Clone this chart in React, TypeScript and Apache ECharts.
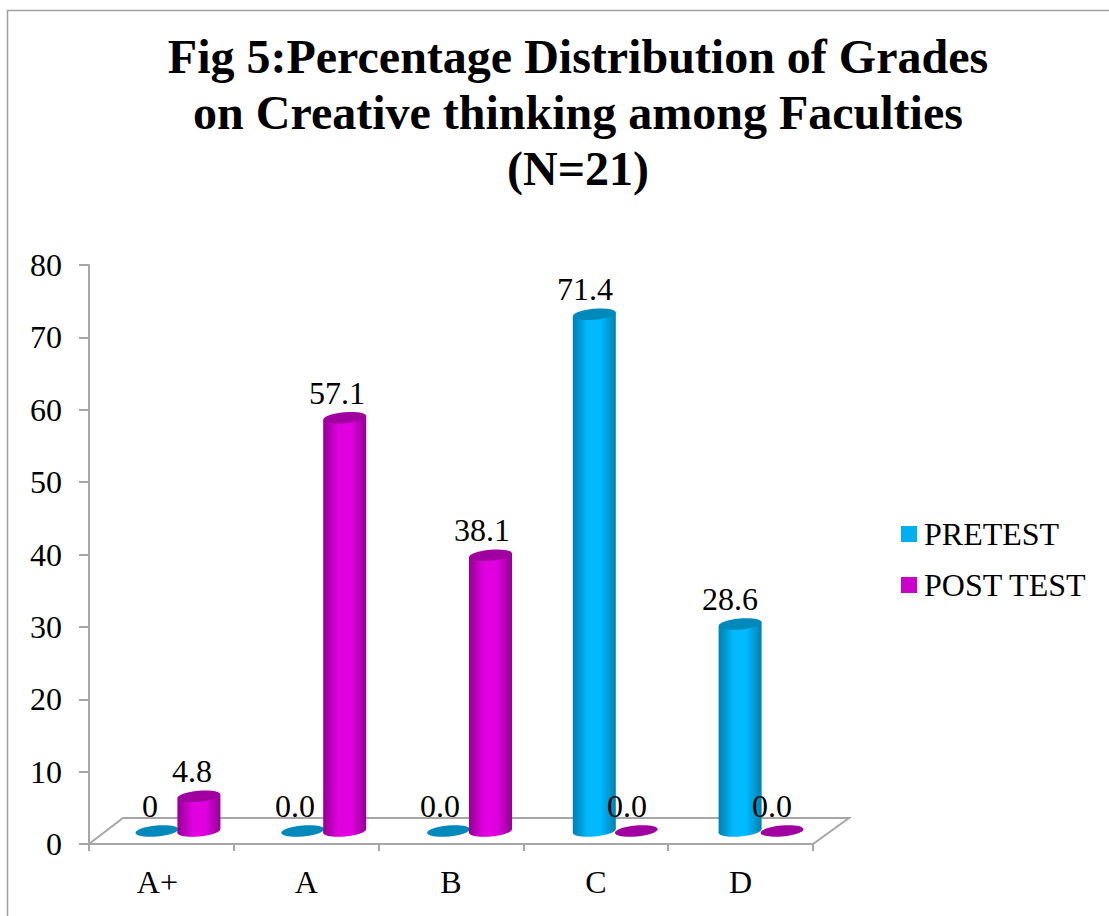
import React, { useEffect, useRef } from "react";
import * as echarts from "echarts";

const titleLines = [
  "Fig 5:Percentage Distribution of Grades",
  "on Creative thinking among Faculties",
  "(N=21)",
];
const categories = ["A+", "A", "B", "C", "D"];
const pretest = [0, 0, 0, 71.4, 28.6];
const posttest = [4.8, 57.1, 38.1, 0, 0];
const pretestLabels = ["0", "0.0", "0.0", "71.4", "28.6"];
const posttestLabels = ["4.8", "57.1", "38.1", "0.0", "0.0"];

const SERIF = '"Liberation Serif", "Times New Roman", serif';
const AXIS_GRAY = "#A6A6A6";

const cylinderGradient = (edge: string, mid: string) => ({
  type: "linear",
  x: 0,
  y: 0,
  x2: 1,
  y2: 0,
  colorStops: [
    { offset: 0, color: edge },
    { offset: 0.35, color: mid },
    { offset: 0.65, color: mid },
    { offset: 1, color: edge },
  ],
});

// Cylinder on the floor of the pseudo-3D plot: slanted body, rounded foot, darker cap.
const cylinder =
  (shift: number, labels: string[], edge: string, mid: string, cap: string) =>
  (_params: any, api: any) => {
    const index = api.value(0);
    const [cx0, topFront] = api.coord([index, api.value(1)]);
    const [, baseFront] = api.coord([index, 0]);
    const cx = cx0 + shift + index; // the floor's depth plane is slightly wider than the front edge
    const depthRise = 13;
    const top = topFront - depthRise;
    const base = baseFront - depthRise;
    const rx = 21.5;
    const ry = 5.5;
    const tilt = 0.09;
    const lean = rx * Math.sin(tilt);
    const fill = cylinderGradient(edge, mid);
    const children: any[] = [];
    if (base - top > 0.5) {
      children.push(
        {
          type: "ellipse",
          x: cx,
          y: base,
          rotation: tilt,
          shape: { cx: 0, cy: 0, rx, ry },
          style: { fill },
        },
        {
          type: "polygon",
          shape: {
            points: [
              [cx - rx, top + lean],
              [cx - rx, base + lean],
              [cx + rx, base - lean],
              [cx + rx, top - lean],
            ],
          },
          style: { fill },
        },
      );
    }
    children.push({
      type: "ellipse",
      x: cx,
      y: top,
      rotation: tilt,
      shape: { cx: 0, cy: 0, rx, ry },
      style: { fill: cap },
    });
    children.push({
      type: "text",
      z2: 50,
      x: cx - 7 - index * 0.8,
      y: top - 25,
      style: {
        text: labels[index],
        fill: "#000",
        font: `32px ${SERIF}`,
        align: "center",
        verticalAlign: "middle",
      },
    });
    return { type: "group", children };
  };

export default function App() {
  const ref = useRef<HTMLDivElement>(null);

  useEffect(() => {
    document.body.style.margin = "0";
    const chart = echarts.init(ref.current!, undefined, { renderer: "svg" });
    chart.setOption({
      animation: false,
      backgroundColor: "#fff",
      title: {
        text: titleLines.join("\n"),
        left: 573,
        top: 23,
        textAlign: "center",
        textStyle: {
          fontFamily: SERIF,
          fontWeight: "bold",
          fontSize: 48,
          lineHeight: 56,
          color: "#000",
        },
      },
      grid: { left: 89, top: 265, width: 724, height: 579 },
      legend: {
        data: [
          { name: "PRETEST", icon: "rect" },
          { name: "POST TEST", icon: "rect" },
        ],
        orient: "vertical",
        left: 901,
        top: 518,
        padding: 0,
        itemWidth: 16,
        itemHeight: 16,
        itemGap: 19,
        selectedMode: false,
        textStyle: {
          fontFamily: SERIF,
          fontSize: 32,
          color: "#000",
          padding: [0, 0, 0, 2],
        },
      },
      xAxis: {
        type: "category",
        data: categories,
        axisLine: { lineStyle: { color: AXIS_GRAY, width: 2 } },
        axisTick: { show: true, interval: 0, length: 7, alignWithLabel: false, lineStyle: { color: AXIS_GRAY, width: 2 } },
        axisLabel: {
          interval: 0,
          color: "#000",
          margin: 22,
          fontFamily: SERIF,
          fontSize: 32,
          // the first category's label sits a little left of its band centre
          formatter: (v: string) => (v === "A+" ? `{lead|${v}}` : v),
          rich: { lead: { fontFamily: SERIF, fontSize: 32, color: "#000", padding: [0, 8, 0, 0] } },
        },
      },
      yAxis: {
        type: "value",
        min: 0,
        max: 80,
        interval: 10,
        splitLine: { show: false },
        axisLine: { show: true, lineStyle: { color: AXIS_GRAY, width: 2 } },
        axisTick: { show: true, length: 10, lineStyle: { color: AXIS_GRAY, width: 2 } },
        axisLabel: { fontFamily: SERIF, fontSize: 32, color: "#000", margin: 27 },
      },
      graphic: [
        {
          type: "polyline",
          silent: true,
          z: 1,
          shape: { points: [[7.5, 916], [7.5, 10.5], [1109, 10.5]] },
          style: { stroke: "#A0A0A0", lineWidth: 1.5, fill: "none" },
        },
        {
          type: "polyline",
          silent: true,
          z: 1,
          shape: { points: [[89, 844], [123, 818], [849, 818], [813, 844]] },
          style: { stroke: AXIS_GRAY, lineWidth: 2, fill: "none" },
        },
      ],
      series: [
        {
          name: "PRETEST",
          type: "custom",
          z: 3,
          itemStyle: { color: "#00B0F0" },
          encode: { x: 0, y: 1 },
          data: pretest.map((v, i) => [i, v]),
          renderItem: cylinder(-4.5, pretestLabels, "#0080AE", "#00B9FF", "#0089BA"),
        },
        {
          name: "POST TEST",
          type: "custom",
          z: 4,
          itemStyle: { color: "#CC00CC" },
          encode: { x: 0, y: 1 },
          data: posttest.map((v, i) => [i, v]),
          renderItem: cylinder(37.5, posttestLabels, "#930093", "#E000E0", "#A000A0"),
        },
      ],
    });
    return () => chart.dispose();
  }, []);

  return <div ref={ref} style={{ position: "absolute", left: 0, top: 0, width: 1109, height: 916 }} />;
}
